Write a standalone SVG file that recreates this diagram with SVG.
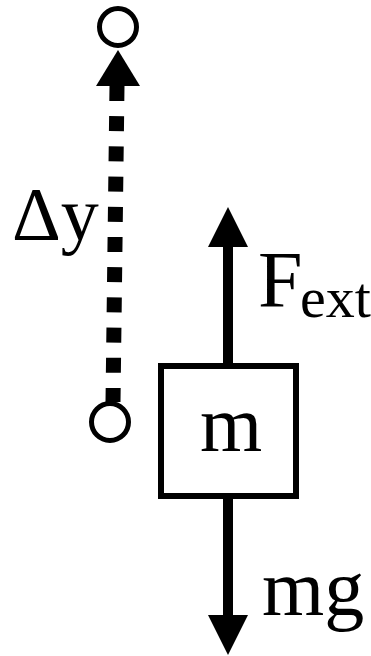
<svg xmlns="http://www.w3.org/2000/svg" width="371" height="656" viewBox="0 0 371 656">
<style>
text{font-family:"Liberation Serif","Times New Roman",serif;fill:#000}
.pt{fill:#fff;stroke:#000;stroke-width:5}
.shaft{stroke:#000;stroke-width:10;fill:none}
.head{fill:#000}
</style>
<rect width="371" height="656" fill="#fff"/>
<g id="connectors">
<line x1="117" y1="86" x2="113" y2="402" stroke="#000" stroke-width="15" stroke-dasharray="15 15.2"/>
<polygon class="head" points="118,50 96,86 140,86"/>
<line class="shaft" x1="228" y1="245" x2="228" y2="364"/>
<polygon class="head" points="228,207 208,247 248,247"/>
<line class="shaft" x1="228" y1="498" x2="228" y2="617"/>
<polygon class="head" points="228,655 208,615 248,615"/>
</g>
<g id="top-point"><circle class="pt" cx="118" cy="27" r="18.5"/></g>
<g id="bottom-point"><circle class="pt" cx="110" cy="422" r="18.5"/></g>
<g id="mass">
<rect x="161" y="366" width="135" height="130" fill="#fff" stroke="#000" stroke-width="6"/>
<text x="231" y="451" font-size="80" text-anchor="middle">m</text>
</g>
<g id="label-dy"><text x="12" y="240" font-size="76">Δy</text></g>
<g id="label-fext"><text x="258" y="307" font-size="80">F</text><text x="300" y="317" font-size="58">ext</text></g>
<g id="label-mg"><text x="262" y="615" font-size="80">mg</text></g>
</svg>
